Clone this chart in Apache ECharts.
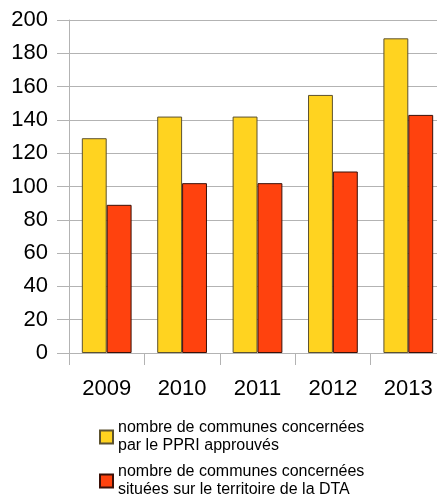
<!DOCTYPE html>
<html><head><meta charset="utf-8">
<script src="https://cdn.jsdelivr.net/npm/echarts@6/dist/echarts.min.js"></script>
<style>html,body{margin:0;padding:0;background:#fff;overflow:hidden}#c{width:446px;height:498px}</style>
</head><body><div id="c"></div>
<script>
const categories = ['2009','2010','2011','2012','2013'];
const ppriValues = [129,142,142,155,189];
const dtaValues = [89,102,102,109,143];
const yTicks = {min:0,max:200,interval:20};
const seriesNames = ['nombre de communes concernées\npar le PPRI approuvés','nombre de communes concernées\nsituées sur le territoire de la DTA'];

const chart = echarts.init(document.getElementById('c'), null, {renderer:'canvas'});
const font = 'Liberation Sans, Arial, sans-serif';
chart.setOption({
  animation:false,
  textStyle:{fontFamily:font},
  grid:{left:69,right:0,top:20,height:333,containLabel:false},
  xAxis:{type:'category',data:categories,
    axisLine:{lineStyle:{color:'#b3b3b3',width:1}},
    axisTick:{show:true,length:12,lineStyle:{color:'#b3b3b3'}},
    axisLabel:{fontSize:22,color:'#000',margin:25,fontFamily:font},
    splitLine:{show:false}},
  yAxis:{type:'value',min:yTicks.min,max:yTicks.max,interval:yTicks.interval,
    axisLine:{show:true,lineStyle:{color:'#b3b3b3',width:1}},
    axisTick:{show:true,length:12,lineStyle:{color:'#b3b3b3'}},
    axisLabel:{fontSize:22,color:'#000',margin:21,fontFamily:font},
    splitLine:{lineStyle:{color:'#b3b3b3',width:1}}},
  legend:{orient:'vertical',left:94,top:405,height:200,itemWidth:13,itemHeight:13,itemGap:-10,
    icon:'rect',
    textStyle:{fontSize:16,color:'#000',lineHeight:18,padding:[18,0,0,0],fontFamily:font},
    data:seriesNames},
  series:[
    {name:seriesNames[0],type:'bar',data:ppriValues,barGap:'0%',barCategoryGap:'34%',
      itemStyle:{color:'#ffd320',borderColor:'#5c5230',borderWidth:1}},
    {name:seriesNames[1],type:'bar',data:dtaValues,
      itemStyle:{color:'#ff420e',borderColor:'#3a1008',borderWidth:1}}
  ]
});
</script></body></html>
